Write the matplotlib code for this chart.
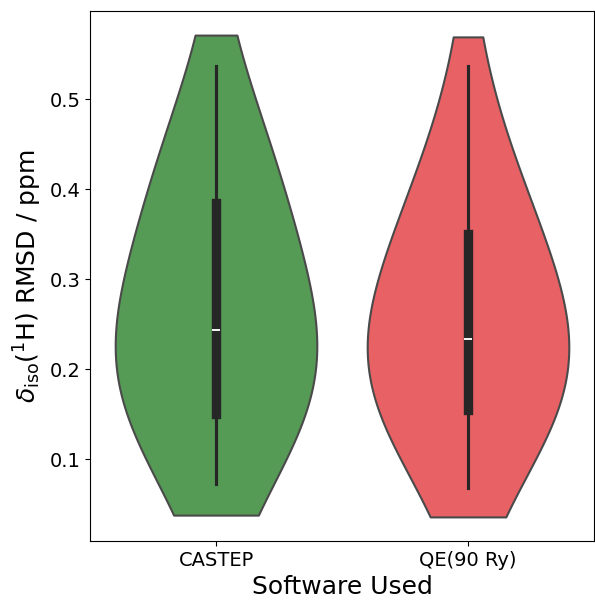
import matplotlib
matplotlib.use("Agg")
import matplotlib.pyplot as plt
import pandas as pd
import seaborn as sns

# RMSD of 1H isotropic shifts per structure (ppm)
castep_rmsd = [0.072, 0.125, 0.135, 0.141, 0.145, 0.147, 0.149, 0.150,
               0.151, 0.183, 0.198, 0.208, 0.218, 0.227, 0.235, 0.243,
               0.250, 0.258, 0.268, 0.282, 0.300, 0.330, 0.380, 0.390,
               0.396, 0.404, 0.413, 0.425, 0.442, 0.470, 0.537]
qe_rmsd = [0.068, 0.115, 0.132, 0.141, 0.147, 0.151, 0.153, 0.154,
           0.156, 0.182, 0.196, 0.206, 0.214, 0.221, 0.228, 0.234,
           0.240, 0.248, 0.258, 0.270, 0.288, 0.312, 0.345, 0.355,
           0.362, 0.370, 0.380, 0.393, 0.412, 0.490, 0.537]
software = ["CASTEP", "QE(90 Ry)"]
colours = ["#559b55", "#e86165"]

df = pd.DataFrame({
    "Software": [software[0]] * len(castep_rmsd) + [software[1]] * len(qe_rmsd),
    "RMSD": castep_rmsd + qe_rmsd,
})

fig = plt.figure(figsize=(5.95, 6.02), dpi=100)
ax = fig.add_axes([90 / 595, 61 / 602, 504 / 595, 530 / 602])

sns.violinplot(data=df, x="Software", y="RMSD", hue="Software",
               palette=colours, saturation=1, cut=0.31, bw_adjust=1.8,
               inner="box", linewidth=1.5, linecolor="#4a4a4a",
               inner_kws=dict(color="#262626"), ax=ax, legend=False)

ax.set_xlabel("Software Used", fontsize=18)
ax.set_ylabel(r"$\delta_{\mathrm{iso}}(^{1}\mathrm{H})$ RMSD / ppm", fontsize=18)
ax.tick_params(axis="both", labelsize=14)

fig.savefig("out.png", dpi=100)
